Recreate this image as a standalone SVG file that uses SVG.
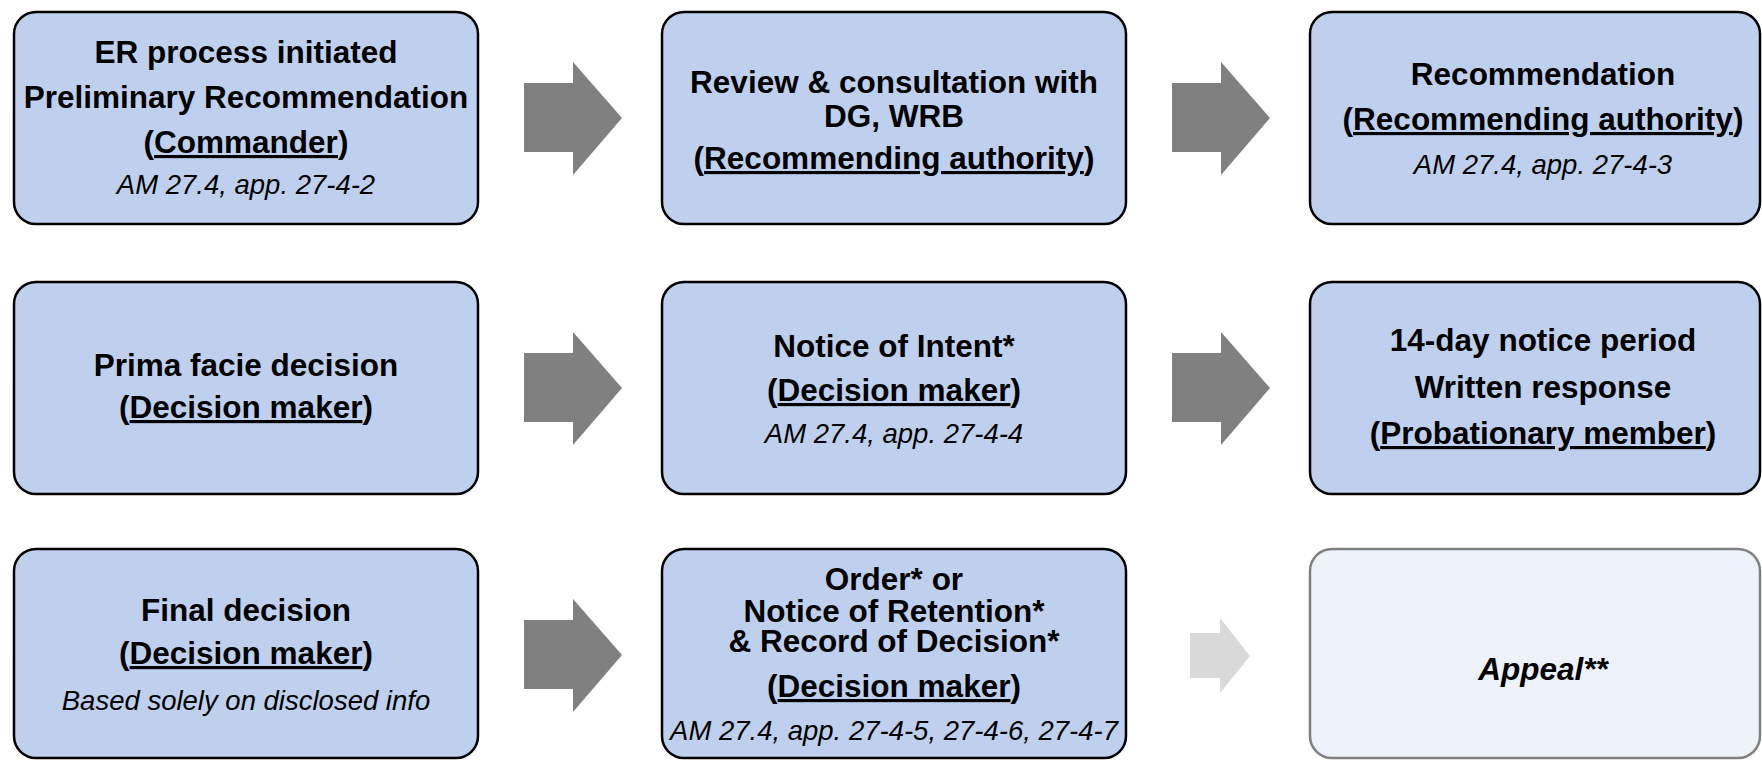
<svg xmlns="http://www.w3.org/2000/svg" width="1762" height="760" viewBox="0 0 1762 760">
<style>
.box{fill:#BFD0EF;stroke:#000;stroke-width:2.5}
.box2{fill:#EDF2FB;stroke:#808080;stroke-width:2.5}
.b{font-family:"Liberation Sans",Arial,sans-serif;font-weight:bold;font-size:31.5px;fill:#000;text-anchor:middle}
.i{font-family:"Liberation Sans",Arial,sans-serif;font-style:italic;font-size:27.5px;fill:#000;text-anchor:middle}
.bi{font-family:"Liberation Sans",Arial,sans-serif;font-style:italic;font-weight:bold;font-size:31.5px;fill:#000;text-anchor:middle}
.u{text-decoration:underline}
.arr{fill:#808080}
.arrl{fill:#D9D9D9}
</style>
<rect width="1762" height="760" fill="#fff"/>
<g id="connectors">
<polygon class="arr" points="524,83 573,83 573,62 622,118 573,175 573,152 524,152"/>
<polygon class="arr" points="1172,83 1221,83 1221,62 1270,118 1221,175 1221,152 1172,152"/>
<polygon class="arr" points="524,353 573,353 573,332 622,388 573,445 573,422 524,422"/>
<polygon class="arr" points="1172,353 1221,353 1221,332 1270,388 1221,445 1221,422 1172,422"/>
<polygon class="arr" points="524,620 573,620 573,599 622,655 573,712 573,689 524,689"/>
<polygon class="arrl" points="1190,633 1220,633 1220,618 1250,656 1220,693 1220,678 1190,678"/>
</g>
<g id="n1">
<rect class="box" x="14" y="12" width="464" height="212" rx="22"/>
<text class="b" x="246" y="63">ER process initiated</text>
<text class="b" x="246" y="108">Preliminary Recommendation</text>
<text class="b" x="246" y="153">(<tspan class="u">Commander</tspan>)</text>
<text class="i" x="246" y="194">AM 27.4, app. 27-4-2</text>
</g>
<g id="n2">
<rect class="box" x="662" y="12" width="464" height="212" rx="22"/>
<text class="b" x="894" y="93">Review &amp; consultation with<tspan x="894" dy="34">DG, WRB</tspan></text>
<text class="b" x="894" y="169">(<tspan class="u">Recommending authority</tspan>)</text>
</g>
<g id="n3">
<rect class="box" x="1310" y="12" width="450" height="212" rx="22"/>
<text class="b" x="1543" y="85">Recommendation</text>
<text class="b" x="1543" y="130">(<tspan class="u">Recommending authority</tspan>)</text>
<text class="i" x="1543" y="174">AM 27.4, app. 27-4-3</text>
</g>
<g id="n4">
<rect class="box" x="14" y="282" width="464" height="212" rx="22"/>
<text class="b" x="246" y="376">Prima facie decision</text>
<text class="b" x="246" y="418">(<tspan class="u">Decision maker</tspan>)</text>
</g>
<g id="n5">
<rect class="box" x="662" y="282" width="464" height="212" rx="22"/>
<text class="b" x="894" y="357">Notice of Intent*</text>
<text class="b" x="894" y="401">(<tspan class="u">Decision maker</tspan>)</text>
<text class="i" x="894" y="443">AM 27.4, app. 27-4-4</text>
</g>
<g id="n6">
<rect class="box" x="1310" y="282" width="450" height="212" rx="22"/>
<text class="b" x="1543" y="351">14-day notice period</text>
<text class="b" x="1543" y="398">Written response</text>
<text class="b" x="1543" y="444">(<tspan class="u">Probationary member</tspan>)</text>
</g>
<g id="n7">
<rect class="box" x="14" y="549" width="464" height="209" rx="22"/>
<text class="b" x="246" y="621">Final decision</text>
<text class="b" x="246" y="664">(<tspan class="u">Decision maker</tspan>)</text>
<text class="i" x="246" y="710">Based solely on disclosed info</text>
</g>
<g id="n8">
<rect class="box" x="662" y="549" width="464" height="209" rx="22"/>
<text class="b" x="894" y="590">Order* or<tspan x="894" dy="32">Notice of Retention*</tspan><tspan x="894" dy="30">&amp; Record of Decision*</tspan></text>
<text class="b" x="894" y="697">(<tspan class="u">Decision maker</tspan>)</text>
<text class="i" x="894" y="740">AM 27.4, app. 27-4-5, 27-4-6, 27-4-7</text>
</g>
<g id="n9">
<rect class="box2" x="1310" y="549" width="450" height="209" rx="22"/>
<text class="bi" x="1543" y="680">Appeal**</text>
</g>
</svg>
